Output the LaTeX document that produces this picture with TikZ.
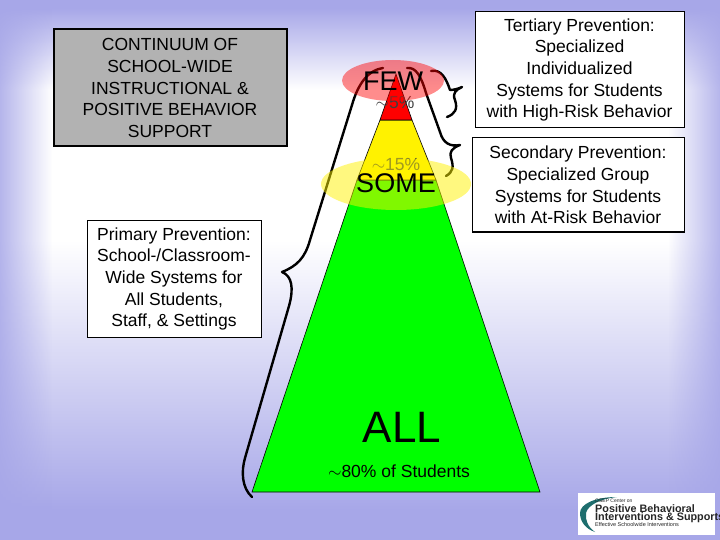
\documentclass[tikz,border=0pt]{standalone}
\usepackage{fontspec}
\setmainfont{Liberation Sans}
\usetikzlibrary{fadings}
\definecolor{slideblue}{RGB}{167,167,232}
\definecolor{logoteal}{RGB}{30,110,110}
\tikzset{
    textbox/.style={draw=black, fill=white, line width=1pt, inner sep=0pt, align=center,
        font=\fontsize{17.5}{21.6}\selectfont},
    bracket/.style={draw=black, line width=2.4pt, line cap=round, line join=round},
    band/.style={draw=black, line width=0.6pt},
    logotext/.style={inner sep=0pt, anchor=west, text=black!85}
}
\begin{document}
\begin{tikzpicture}[x=1pt, y=-1pt]
    \useasboundingbox (0,0) rectangle (720,540);
    % slide background
    \fill[white] (0,0) rectangle (720,540);
    \shade[top color=slideblue, bottom color=white] (0,8) rectangle (720,90);
    \fill[slideblue] (0,0) rectangle (720,8);
    \shade[top color=white, bottom color=slideblue] (0,240) rectangle (720,510);
    \fill[slideblue] (0,510) rectangle (720,540);
    \fill[slideblue, path fading=east] (-10,0) rectangle (52,540);
    \fill[slideblue, path fading=west] (668,0) rectangle (730,540);
    % pyramid
    \draw[band, fill=green] (252,492) -- (357,180) -- (436,180) -- (540,492) -- cycle;
    \draw[band, fill=yellow] (357,180) -- (380,120) -- (412,120) -- (436,180) -- cycle;
    \draw[band, fill=red] (380,120) -- (396,74) -- (412,120) -- cycle;
    \node[inner sep=0pt, font=\fontsize{17.5}{21}\selectfont, text=black!75] (midpct) at (395,103) {$\sim$5\%};
    \node[inner sep=0pt, font=\fontsize{17.5}{21}\selectfont, text=black!75] (somepct) at (396,165) {$\sim$15\%};
    % braces
    \draw[bracket] (383,68) .. controls (368,70) and (358,84) .. (352,105)
        -- (310,240) .. controls (305,258) and (297,266) .. (282,272)
        .. controls (292,276) and (294,288) .. (289,306)
        -- (245,458) .. controls (241,472) and (242,488) .. (252,497);
    \draw[bracket] (431,71) .. controls (441,69) and (446,78) .. (450,90)
        .. controls (453,90) and (458,89) .. (462,87)
        .. controls (456,90) and (452,93) .. (455,100)
        .. controls (458,109) and (455,114) .. (447,117);
    \draw[bracket] (407,68) .. controls (416,67) and (421,76) .. (426,93)
        -- (440,132) .. controls (443,143) and (450,147) .. (460,145)
        .. controls (452,148) and (449,152) .. (451,158)
        .. controls (454,167) and (453,172) .. (446,176);
    % highlight ellipses
    \fill[red, opacity=0.45] (393,80.5) ellipse (51 and 20.5);
    \fill[yellow, opacity=0.5] (396,184) ellipse (75 and 26);
    % level names
    \node[inner sep=0pt, font=\fontsize{27}{30}\selectfont] (few) at (393,81) {FEW};
    \node[inner sep=0pt, font=\fontsize{27}{30}\selectfont] (some) at (396,183) {SOME};
    \node[inner sep=0pt, font=\fontsize{44}{48}\selectfont] (all) at (402,427) {ALL};
    \node[inner sep=0pt, font=\fontsize{17.5}{21}\selectfont] (allpct) at (399,471) {$\sim$80\% of Students};
    % text boxes
    \node[textbox, fill=black!30, line width=2pt, minimum width=233pt, minimum height=117pt] (continuum) at (170,88)
        {CONTINUUM OF\\SCHOOL-WIDE\\INSTRUCTIONAL \&\\POSITIVE BEHAVIOR\\SUPPORT};
    \node[textbox, minimum width=174pt, minimum height=116pt] (primary) at (174,279)
        {Primary Prevention:\\School-/Classroom-\\Wide Systems for\\All Students,\\Staff, \& Settings};
    \node[textbox, minimum width=209pt, minimum height=116pt] (tertiary) at (579.5,70)
        {Tertiary Prevention:\\Specialized\\Individualized\\Systems for Students\\with High-Risk Behavior};
    \node[textbox, minimum width=212pt, minimum height=94pt] (secondary) at (578,185)
        {Secondary Prevention:\\Specialized Group\\Systems for Students\\with At-Risk Behavior};
    % logo
    \fill[white] (578,493) rectangle (715,535);
    \fill[logoteal] (617,497) .. controls (595,497) and (580,504) .. (580,513)
        .. controls (580,522) and (586,529) .. (595,532)
        .. controls (588,527) and (585,520) .. (586,513)
        .. controls (588,505) and (600,499) .. (617,497) -- cycle;
    \node[logotext, font=\fontsize{5}{6}\selectfont] (logoa) at (595,501) {OSEP Center on};
    \node[logotext, font=\fontsize{10.8}{12}\selectfont\bfseries] (logob) at (595,508.5) {Positive Behavioral};
    \node[logotext, font=\fontsize{10.8}{12}\selectfont\bfseries] (logoc) at (595,517.5) {Interventions \& Supports};
    \node[logotext, font=\fontsize{5.5}{6}\selectfont] (logod) at (595,524.5) {Effective Schoolwide Interventions};
\end{tikzpicture}
\end{document}
